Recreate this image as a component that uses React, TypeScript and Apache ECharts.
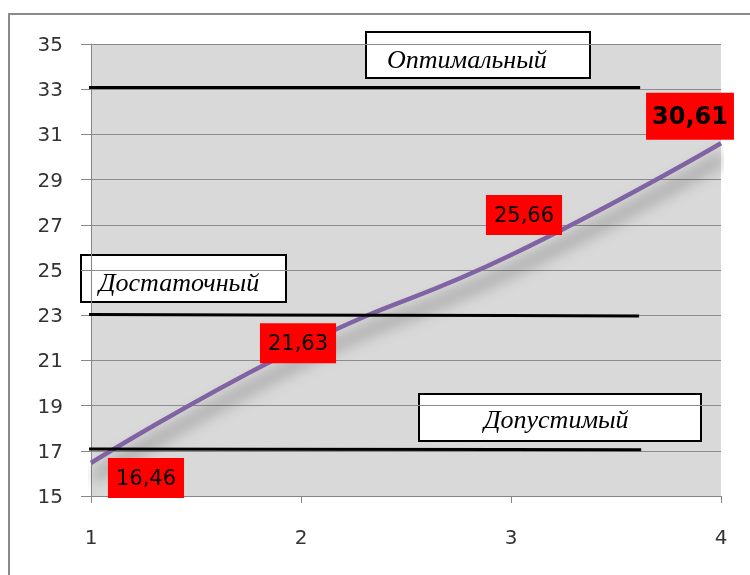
import React, { useEffect, useRef } from "react";
import * as echarts from "echarts";

const xValues = [1, 2, 3, 4];
const yValues = [16.46, 21.63, 25.66, 30.61];
const xTicks = { min: 1, max: 4, interval: 1 };
const yTicks = { min: 15, max: 35, interval: 2 };

const levelNames = ["Оптимальный", "Достаточный", "Допустимый"];
const levelStartX = [0.975, 0.97, 0.98];
const levelEndX = [3.615, 3.61, 3.62];
const levelStartY = [33.08, 23.03, 17.08];
const levelEndY = [33.08, 22.97, 17.05];

const fmt = (v: number) => v.toFixed(2).replace(".", ",");

export default function App() {
  const ref = useRef<HTMLDivElement>(null);
  useEffect(() => {
    if (!ref.current) return;
    const chart = echarts.init(ref.current, null, { renderer: "svg" });

    const labelOffsets: [number, number][] = [
      [55, 15],
      [-3, -3],
      [13, -40],
      [-31, -27],
    ];

    const mainData = xValues.map((x, i) => {
      const last = i === xValues.length - 1;
      return {
        value: [x, yValues[i]],
        label: {
          show: true,
          position: "inside",
          formatter: () => fmt(yValues[i]),
          backgroundColor: "#FF0000",
          color: "#000",
          fontFamily: "DejaVu Sans",
          fontSize: last ? 24 : 21,
          fontWeight: last ? "bold" : "normal",
          padding: last ? [11, 6, 10, 6] : [8, 8, 8, 8],
          lineHeight: last ? 26 : 24,
        },
      };
    });

    const levelSeries = levelNames.map((name, i) => ({
      type: "line",
      name,
      data: [
        [levelStartX[i], levelStartY[i]],
        [levelEndX[i], levelEndY[i]],
      ],
      symbol: "none",
      clip: false,
      silent: true,
      z: 5,
      lineStyle: { color: "#000", width: 3 },
    }));

    const boxes = [
      { x: 366, y: 32, w: 224, h: 46, tx: 387, ty: 59 },
      { x: 81, y: 255, w: 205, h: 47, tx: 99, ty: 282 },
      { x: 419, y: 394, w: 282, h: 47, tx: 484, ty: 419 },
    ];

    chart.setOption({
      animation: false,
      grid: {
        left: 91,
        top: 44,
        right: 29,
        bottom: 79,
        show: true,
        backgroundColor: "#D9D9D9",
        borderWidth: 0,
      },
      xAxis: {
        type: "value",
        min: xTicks.min,
        max: xTicks.max,
        interval: xTicks.interval,
        axisLine: { show: true, lineStyle: { color: "#868686", width: 1 } },
        axisTick: { show: true, length: 7, lineStyle: { color: "#868686" } },
        splitLine: { show: false },
        axisLabel: {
          fontFamily: "DejaVu Sans",
          fontSize: 20,
          color: "#333",
          margin: 31,
        },
      },
      yAxis: {
        type: "value",
        min: yTicks.min,
        max: yTicks.max,
        interval: yTicks.interval,
        axisLine: { show: true, lineStyle: { color: "#868686", width: 1 } },
        axisTick: { show: true, length: 10, lineStyle: { color: "#868686" } },
        splitLine: { show: true, lineStyle: { color: "#8C8C8C", width: 1 } },
        axisLabel: {
          fontFamily: "DejaVu Sans",
          fontSize: 20,
          color: "#333",
          margin: 28,
        },
      },
      series: [
        {
          type: "line",
          data: mainData,
          smooth: true,
          symbol: "circle",
          symbolSize: 1,
          itemStyle: { color: "rgba(0,0,0,0)" },
          z: 3,
          lineStyle: {
            color: "#8064A2",
            width: 4.5,
            shadowColor: "rgba(0,0,0,0.6)",
            shadowBlur: 16,
            shadowOffsetX: 3,
            shadowOffsetY: 14,
          },
          labelLayout: (params: any) => ({
            dx: labelOffsets[params.dataIndex][0],
            dy: labelOffsets[params.dataIndex][1],
            hideOverlap: false,
          }),
        },
        ...levelSeries,
      ],
      graphic: [
        {
          type: "rect",
          shape: { x: 9, y: 14, width: 800, height: 700 },
          style: { fill: "none", stroke: "#8A8A8A", lineWidth: 2 },
          silent: true,
          z: -10,
        },
        ...boxes.map((b, i) => ({
          type: "group",
          z: 100,
          children: [
            {
              type: "rect",
              shape: { x: b.x, y: b.y, width: b.w, height: b.h },
              style: { fill: "#fff", stroke: "#000", lineWidth: 2 },
            },
            {
              type: "text",
              x: b.tx,
              y: b.ty,
              style: {
                text: levelNames[i],
                fontFamily: "Liberation Serif",
                fontStyle: "italic",
                fontSize: 26,
                fill: "#000",
                textAlign: "left",
                textVerticalAlign: "middle",
              },
            },
          ],
        })),
      ],
    });
    return () => chart.dispose();
  }, []);
  return (
    <div
      ref={ref}
      style={{ position: "fixed", left: 0, top: 0, width: 750, height: 575 }}
    />
  );
}
